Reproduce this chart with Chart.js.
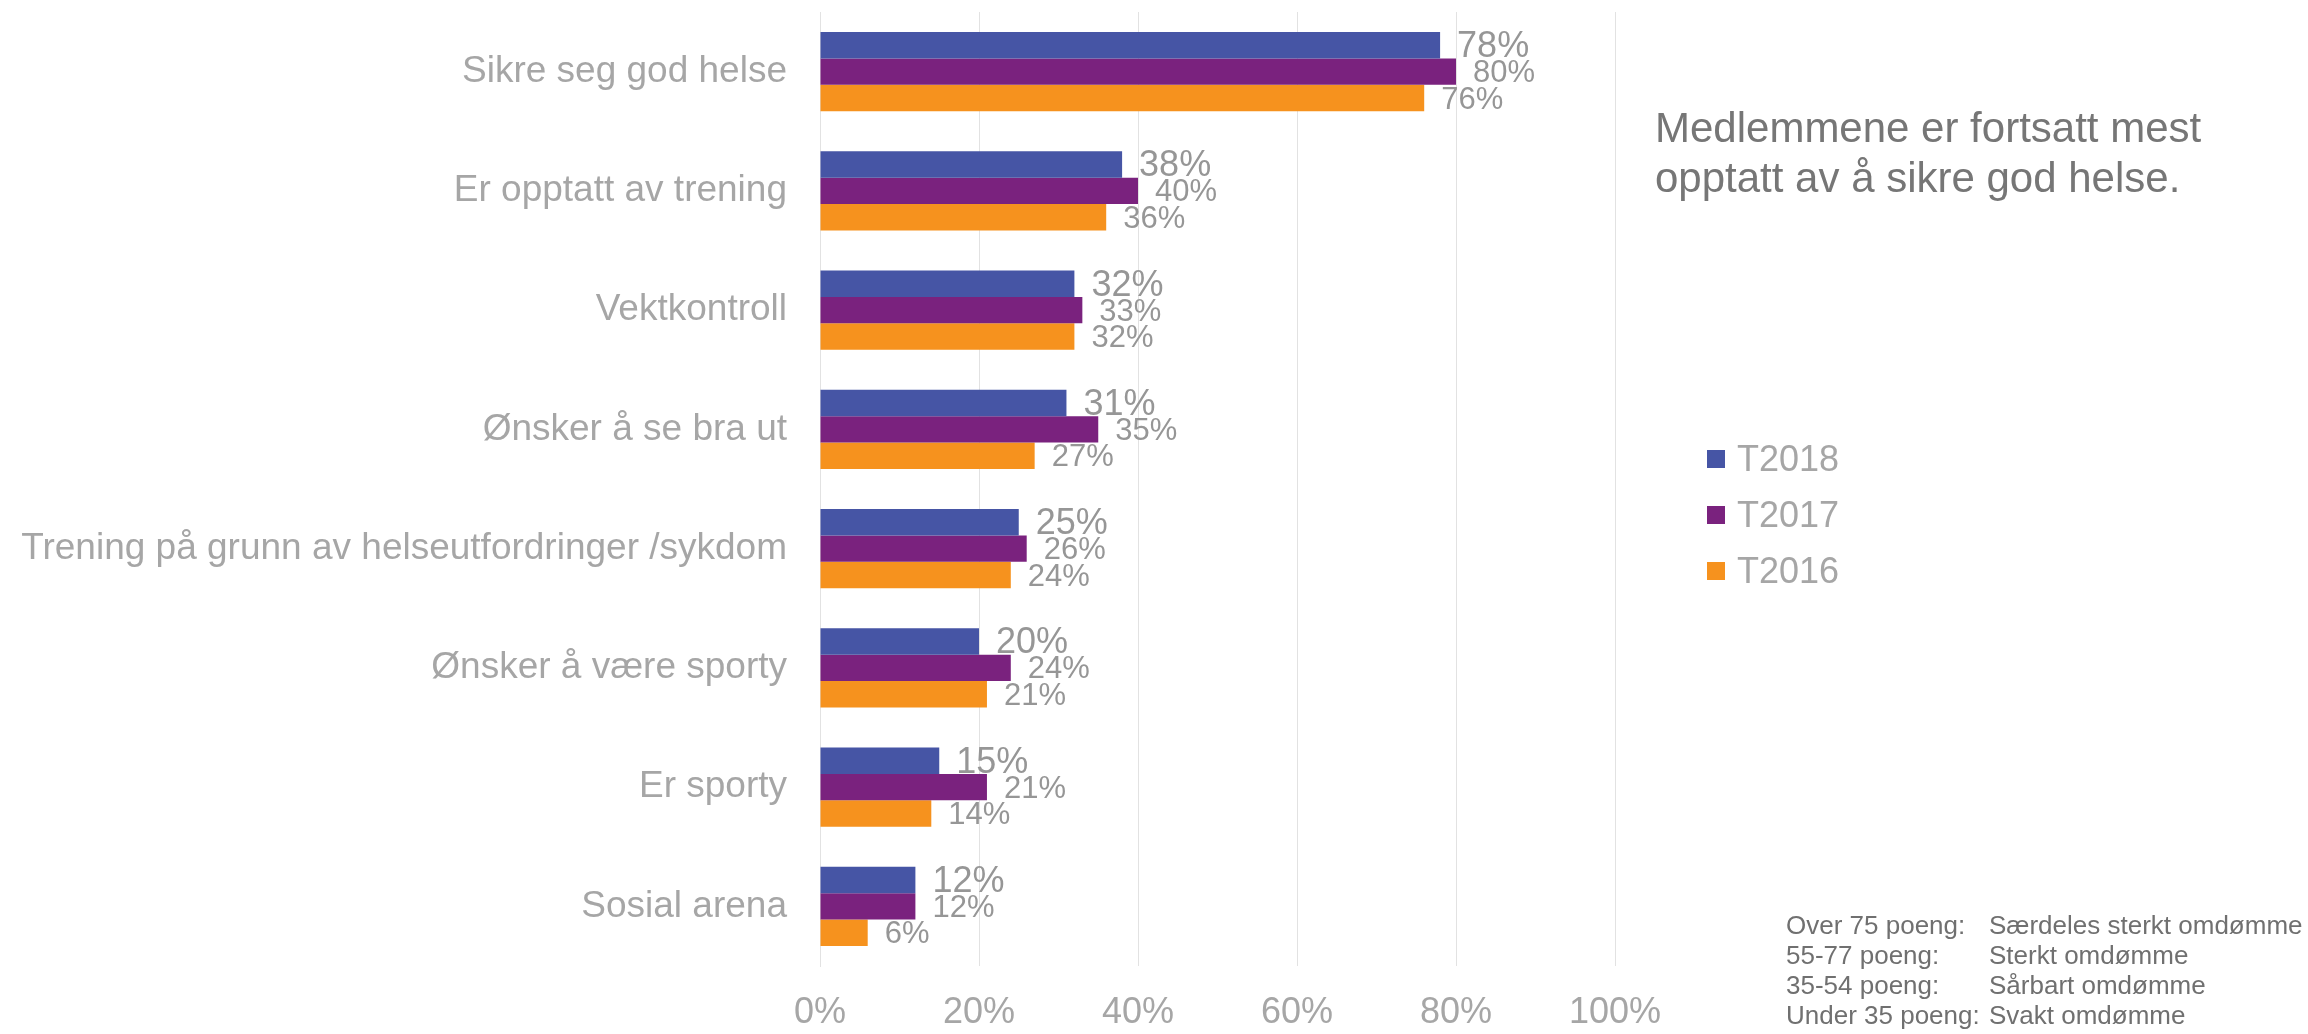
<!DOCTYPE html>
<html>
<head>
<meta charset="utf-8">
<script src="https://cdn.jsdelivr.net/npm/chart.js@4"></script>
<style>
  body { margin: 0; background: #fff; font-family: "Liberation Sans", Arial, sans-serif; }
  #wrap { position: relative; width: 2308px; height: 1034px; }
  #title { position: absolute; left: 1655px; top: 103px; font-size: 42px; line-height: 50px; color: #767676; }
  #legend { position: absolute; left: 1707px; top: 441px; }
  .item { display: flex; align-items: center; height: 36px; margin-bottom: 20px; font-size: 36px; color: #a6a6a6; }
  .item span { display: inline-block; width: 18px; height: 18px; margin-right: 12px; }
  #note { position: absolute; left: 1786px; top: 910px; font-size: 26px; line-height: 30px; color: #707070; }
  #note div { position: relative; white-space: nowrap; }
  #note b { font-weight: normal; position: absolute; left: 203px; }
</style>
</head>
<body>
<div id="wrap">
  <canvas id="chart"></canvas>
  <div id="title">Medlemmene er fortsatt mest<br>opptatt av å sikre god helse.</div>
  <div id="legend"></div>
  <div id="note"></div>
</div>
<script>
// ================= DATA =================
const categories = [
  "Sikre seg god helse",
  "Er opptatt av trening",
  "Vektkontroll",
  "Ønsker å se bra ut",
  "Trening på grunn av helseutfordringer /sykdom",
  "Ønsker å være sporty",
  "Er sporty",
  "Sosial arena"
];
const seriesNames = ["T2018", "T2017", "T2016"];
const t2018 = [78, 38, 32, 31, 25, 20, 15, 12];
const t2017 = [80, 40, 33, 35, 26, 24, 21, 12];
const t2016 = [76, 36, 32, 27, 24, 21, 14, 6];
const xTicks = [0, 20, 40, 60, 80, 100];

const noteLeft = ["Over 75 poeng:", "55-77 poeng:", "35-54 poeng:", "Under 35 poeng:"];
const noteRight = ["Særdeles sterkt omdømme", "Sterkt omdømme", "Sårbart omdømme", "Svakt omdømme"];

// ================= STYLE =================
const colors = ["#4655a5", "#7a227e", "#f6921e"];
const labelSizes = [36, 31, 31];
const FONT = '"Liberation Sans", Arial, sans-serif';

// ================= LEGEND / NOTE =================
const legend = document.getElementById("legend");
seriesNames.forEach((name, i) => {
  legend.innerHTML += `<div class="item"><span style="background:${colors[i]}"></span>${name}</div>`;
});

const note = document.getElementById("note");
noteLeft.forEach((t, i) => {
  note.innerHTML += `<div>${t}<b>${noteRight[i]}</b></div>`;
});

// ================= LABEL PLUGIN =================
const valueLabels = {
  id: "valueLabels",
  afterDatasetsDraw(chart) {
    const ctx = chart.ctx;
    ctx.save();
    ctx.fillStyle = "#969696";
    ctx.textAlign = "left";
    ctx.textBaseline = "middle";
    chart.data.datasets.forEach((ds, i) => {
      ctx.font = labelSizes[i] + "px " + FONT;
      chart.getDatasetMeta(i).data.forEach((bar, j) => {
        ctx.fillText(ds.data[j] + "%", bar.x + 17, bar.y + 2);
      });
    });
    ctx.restore();
  }
};

// ================= CHART =================
const series = [t2018, t2017, t2016];

new Chart(document.getElementById("chart"), {
  type: "bar",
  data: {
    labels: categories,
    datasets: series.map((d, i) => ({
      label: seriesNames[i],
      data: d,
      backgroundColor: colors[i],
      categoryPercentage: 0.664,
      barPercentage: 1
    }))
  },
  options: {
    indexAxis: "y",
    responsive: true,
    maintainAspectRatio: false,
    animation: false,
    layout: { padding: { top: 12, right: 693, bottom: 0, left: 0 } },
    plugins: { legend: { display: false }, tooltip: { enabled: false } },
    scales: {
      x: {
        min: 0,
        max: 100,
        afterBuildTicks: s => { s.ticks = xTicks.map(v => ({ value: v })); },
        afterFit: s => { s.height = 68; s.paddingLeft = 0; s.paddingRight = 0; },
        grid: { color: "#e2e2e2", drawTicks: false },
        border: { display: false },
        ticks: {
          padding: 25,
          color: "#a6a6a6",
          font: { family: FONT, size: 36 },
          callback: v => v + "%"
        }
      },
      y: {
        afterFit: s => { s.width = 820; s.paddingTop = 0; s.paddingBottom = 0; },
        grid: { display: false, drawTicks: false },
        border: { display: true, color: "#e2e2e2" },
        ticks: {
          padding: 33,
          color: "#a6a6a6",
          font: { family: FONT, size: 37 }
        }
      }
    }
  },
  plugins: [valueLabels]
});
</script>
</body>
</html>
